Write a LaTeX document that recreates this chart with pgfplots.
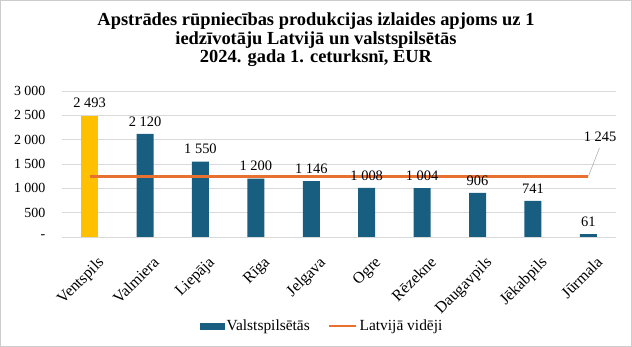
\documentclass[border=0pt]{standalone}
\usepackage{pgfplots}
\pgfplotsset{compat=1.18}
\usepackage{fontspec}
\setmainfont{Liberation Serif}
\definecolor{barblue}{HTML}{175E80}
\definecolor{baryellow}{HTML}{FFC000}
\definecolor{lineorange}{HTML}{E8712F}
\definecolor{gridgray}{HTML}{D9D9D9}
\begin{document}
\begin{tikzpicture}[x=1bp,y=1bp]
\draw[gray!40, line width=0.8bp] (0.5,0.5) rectangle (631.5,346.5);
\node[font=\fontsize{18.5}{18.5}\selectfont\bfseries, align=center] at (316,307) {Apstrādes rūpniecības produkcijas izlaides apjoms uz 1\\iedzīvotāju Latvijā un valstspilsētās\\2024. gada 1. ceturksnī, EUR};
\begin{axis}[
  at={(62bp,110bp)}, anchor=south west,
  scale only axis, width=554bp, height=146bp,
  xmin=-0.5, xmax=9.5, ymin=0, ymax=3000,
  axis line style={draw=none},
  xtick={0,...,9},
  xticklabels={Ventspils,Valmiera,Liepāja,Rīga,Jelgava,Ogre,Rēzekne,Daugavpils,Jēkabpils,Jūrmala},
  xticklabel style={rotate=45, anchor=north east, font=\fontsize{16}{18}\selectfont, inner sep=0bp, xshift=-8bp, yshift=-18bp},
  xtick style={draw=none},
  ytick={0,500,...,3000},
  yticklabels={{-\hspace{9bp}},500,1 000,1 500,2 000,2 500,3 000},
  yticklabel style={font=\fontsize{14}{15}\selectfont, xshift=-13bp},
  ytick style={draw=none},
  ymajorgrids, grid style={gridgray, line width=0.8bp},
  bar width=17bp, bar shift=0bp,
  /pgf/number format/1000 sep={\ },
  /pgf/number format/assume math mode=true,
  nodes near coords style={font=\fontsize{14.5}{16}\selectfont, text=black, yshift=4bp},
  legend style={at={(0.5,0)}, anchor=center, xshift=-17bp, yshift=-89bp, draw=none, legend columns=2, font=\fontsize{15.5}{17}\selectfont, /tikz/every even column/.style={column sep=16bp}},
  clip=false,
]
\addplot[ybar, fill=barblue, draw=none, nodes near coords,
  legend image code/.code={\fill[barblue] (0bp,-3.5bp) rectangle (25bp,3.5bp);}]
  coordinates {(1,2120) (2,1550) (3,1200) (4,1146) (5,1008) (6,1004) (7,906) (8,741) (9,61)};
\addlegendentry{Valstspilsētās}
\addplot[ybar, fill=baryellow, draw=none, forget plot, nodes near coords]
  coordinates {(0,2493)};
\addplot[lineorange, line width=2.8bp, mark=none,
  legend image code/.code={\draw[lineorange, line width=2.8bp] (0bp,0bp) -- (27bp,0bp);}]
  coordinates {(0,1245) (9,1245)};
\addlegendentry{Latvijā vidēji}
\draw[gray!70, line width=0.5bp] (axis cs:9,1245) -- (axis cs:9.2,1830);
\node[font=\fontsize{14.5}{16}\selectfont] at (axis cs:9.21,2055) {1 245};
\end{axis}
\end{tikzpicture}
\end{document}
